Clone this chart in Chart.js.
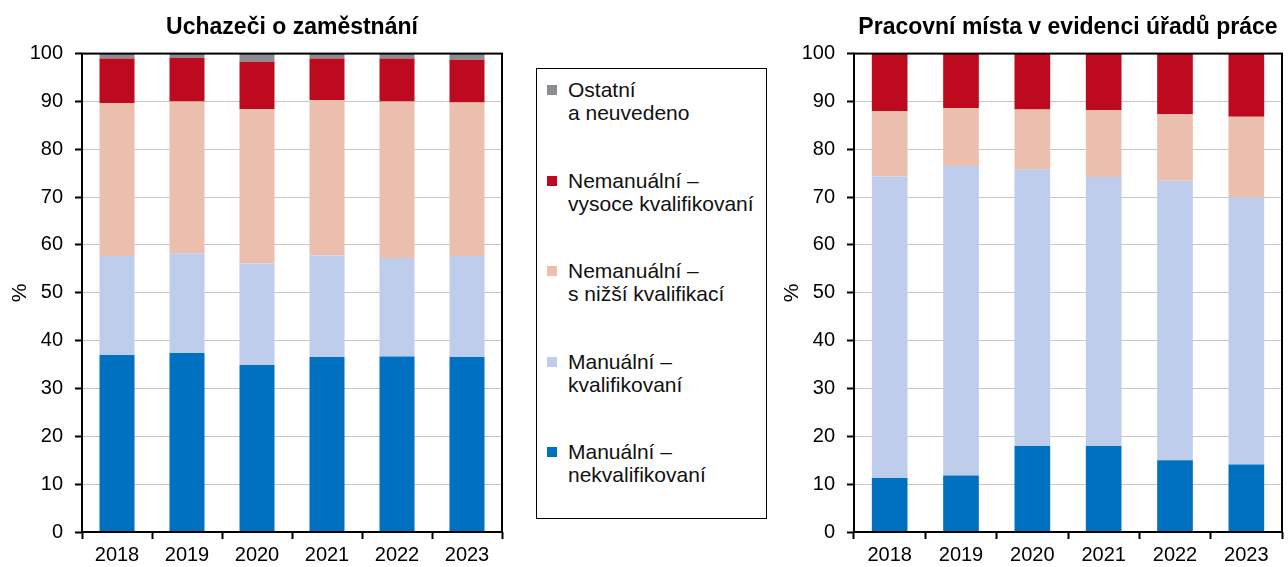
<!doctype html>
<html lang="cs">
<head>
  <meta charset="utf-8">
  <title>Uchazeči a pracovní místa</title>
  <script src="https://cdn.jsdelivr.net/npm/chart.js"></script>
  <style>
    html, body { margin: 0; padding: 0; background: #fff; overflow: hidden; }
    body { width: 1288px; height: 567px; position: relative; font-family: 'Liberation Sans', Arial, sans-serif; }
    .box { position: absolute; top: 0; height: 567px; }
    #leftBox { left: 0; width: 512px; }
    #rightBox { left: 772px; width: 516px; }
    #legend {
      position: absolute; left: 536px; top: 68px; width: 231px; height: 451px;
      border: 1px solid #000; background: #fff; box-sizing: border-box;
      padding-top: 9px; color: #111; font-size: 21px; line-height: 23px;
    }
    .item { position: relative; padding-left: 31px; height: 90.5px; }
    .item span.sw { position: absolute; left: 10px; top: 7px; width: 10px; height: 10px; }
  </style>
</head>
<body>
  <div class="box" id="leftBox"><canvas id="left"></canvas></div>
  <div class="box" id="rightBox"><canvas id="right"></canvas></div>
  <div id="legend"></div>

  <script>
    const years = ['2018', '2019', '2020', '2021', '2022', '2023'];
    const seriesNames = ['Manuální – nekvalifikovaní', 'Manuální – kvalifikovaní', 'Nemanuální – s nižší kvalifikací', 'Nemanuální – vysoce kvalifikovaní', 'Ostatní a neuvedeno'];
    const colors = ['#0070C0', '#BDCDEB', '#ECBEAD', '#BE0A1E', '#8B8C90'];

    // Uchazeči o zaměstnání (%)
    const uchNekval = [37.0, 37.4, 34.9, 36.6, 36.7, 36.6];
    const uchKval = [20.7, 20.8, 21.2, 21.2, 20.6, 21.1];
    const uchNizsi = [32.0, 31.8, 32.3, 32.5, 32.7, 32.1];
    const uchVysoce = [9.3, 9.1, 9.9, 8.7, 9.0, 8.9];
    const uchOstatni = [1.0, 0.9, 1.7, 1.0, 1.0, 1.3];

    // Pracovní místa v evidenci úřadů práce (%)
    const pmNekval = [11.3, 11.8, 18.0, 18.0, 15.0, 14.1];
    const pmKval = [63.0, 64.7, 57.8, 56.2, 58.4, 55.8];
    const pmNizsi = [13.7, 12.1, 12.5, 14.0, 13.9, 16.9];
    const pmVysoce = [12.0, 11.4, 11.7, 11.8, 12.7, 13.2];
    const pmOstatni = [0, 0, 0, 0, 0, 0];

    const legendLines = [
      ['Ostatní', 'a neuvedeno'],
      ['Nemanuální –', 'vysoce kvalifikovaní'],
      ['Nemanuální –', 's nižší kvalifikací'],
      ['Manuální –', 'kvalifikovaní'],
      ['Manuální –', 'nekvalifikovaní']
    ];
    const legendColors = [colors[4], colors[3], colors[2], colors[1], colors[0]];

    const legendDiv = document.getElementById('legend');
    legendLines.forEach((lines, i) => {
      const item = document.createElement('div');
      item.className = 'item';
      const sw = document.createElement('span');
      sw.className = 'sw';
      sw.style.background = legendColors[i];
      item.appendChild(sw);
      lines.forEach(t => {
        const d = document.createElement('div');
        d.textContent = t;
        item.appendChild(d);
      });
      legendDiv.appendChild(item);
    });

    const fontFamily = "'Liberation Sans', Arial, sans-serif";
    Chart.defaults.font.family = fontFamily;
    Chart.defaults.color = '#000';

    const frame = {
      id: 'frame',
      afterDraw(chart) {
        const a = chart.chartArea;
        const ctx = chart.ctx;
        ctx.save();
        ctx.strokeStyle = '#000';
        ctx.lineWidth = 2;
        ctx.strokeRect(a.left, a.top, a.right - a.left, a.bottom - a.top);
        ctx.restore();
      }
    };

    function makeChart(id, title, dataArrays, padRight) {
      return new Chart(document.getElementById(id), {
        type: 'bar',
        data: {
          labels: years,
          datasets: dataArrays.map((d, i) => ({
            label: seriesNames[i],
            data: d,
            backgroundColor: colors[i],
            borderWidth: 0,
            categoryPercentage: 1,
            barPercentage: 0.5
          }))
        },
        options: {
          responsive: true,
          maintainAspectRatio: false,
          animation: false,
          layout: { padding: { left: 0, right: padRight, top: 0, bottom: 0 } },
          plugins: {
            legend: { display: false },
            tooltip: { enabled: false },
            title: {
              display: true,
              text: title,
              fullSize: false,
              color: '#000',
              font: { size: 23, weight: 'bold' },
              padding: { top: 14, bottom: 12 }
            }
          },
          scales: {
            x: {
              stacked: true,
              grid: { offset: true, drawOnChartArea: false, tickColor: '#000', tickLength: 7, tickWidth: 2 },
              border: { display: false },
              ticks: { font: { size: 20 }, padding: 4, color: '#000' },
              afterFit(s) { s.height = 35; }
            },
            y: {
              stacked: true,
              min: 0,
              max: 100,
              grid: { color: '#C6C6C6', lineWidth: 1, tickColor: '#000', tickLength: 7, tickWidth: 2 },
              border: { display: false },
              ticks: { stepSize: 10, font: { size: 20 }, padding: 12, color: '#000' },
              title: { display: true, text: '%', font: { size: 21 }, color: '#000', padding: { top: 8, bottom: 0 } },
              afterFit(s) { s.width = 82; }
            }
          }
        },
        plugins: [frame]
      });
    }

    makeChart('left', 'Uchazeči o zaměstnání', [uchNekval, uchKval, uchNizsi, uchVysoce, uchOstatni], 10);
    makeChart('right', 'Pracovní místa v evidenci úřadů práce', [pmNekval, pmKval, pmNizsi, pmVysoce, pmOstatni], 6);
  </script>
</body>
</html>
